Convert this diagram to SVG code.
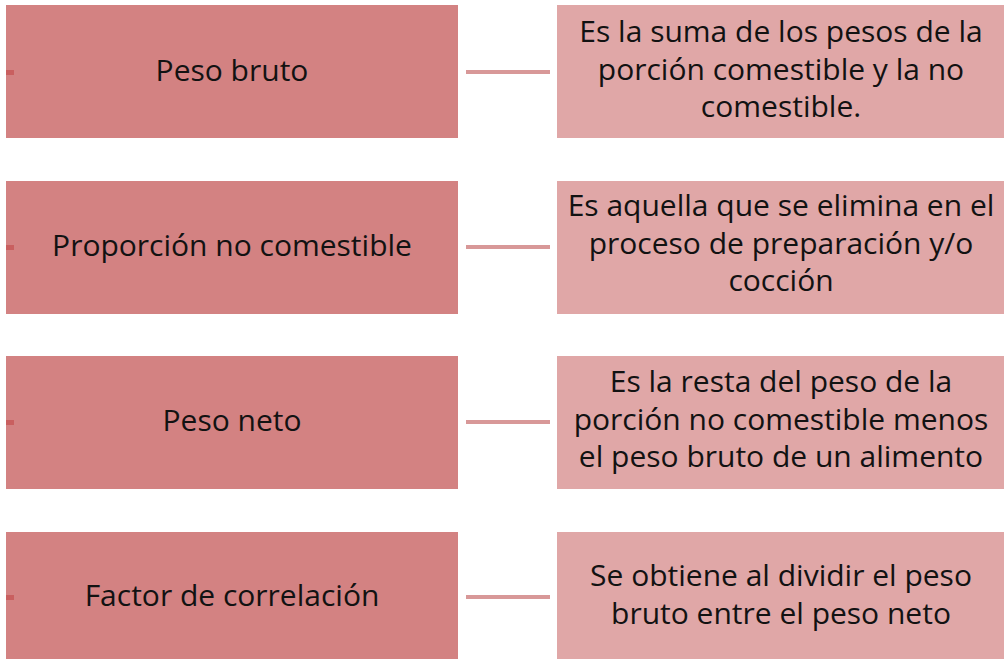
<svg xmlns="http://www.w3.org/2000/svg" width="1005" height="659" viewBox="0 0 1005 659">
<style>
.l{fill:#d38282;}
.r{fill:#e0a7a7;}
.m{fill:#c95f5f;}
.c{stroke:#d89898;stroke-width:4;fill:none;}
text{font-family:"Open Sans","Liberation Sans",sans-serif;font-size:30px;fill:#121212;text-anchor:middle;}
</style>
<rect width="1005" height="659" fill="#ffffff"/>
<g id="connectors">
<line class="c" x1="466" y1="72" x2="550" y2="72"/>
<line class="c" x1="466" y1="247" x2="550" y2="247"/>
<line class="c" x1="466" y1="422" x2="550" y2="422"/>
<line class="c" x1="466" y1="597" x2="550" y2="597"/>
</g>
<g id="n1"><rect class="l" x="6" y="5" width="452" height="133"/><rect class="m" x="6" y="70" width="8" height="5"/><text x="232" y="81">Peso bruto</text></g>
<g id="d1"><rect class="r" x="557" y="5" width="447" height="133"/><text x="781" y="42">Es la suma de los pesos de la</text><text x="781" y="80">porción comestible y la no</text><text x="781" y="117">comestible.</text></g>
<g id="n2"><rect class="l" x="6" y="181" width="452" height="133"/><rect class="m" x="6" y="245" width="8" height="5"/><text x="232" y="256">Proporción no comestible</text></g>
<g id="d2"><rect class="r" x="557" y="181" width="447" height="133"/><text x="781" y="216">Es aquella que se elimina en el</text><text x="781" y="254">proceso de preparación y/o</text><text x="781" y="291">cocción</text></g>
<g id="n3"><rect class="l" x="6" y="356" width="452" height="133"/><rect class="m" x="6" y="420" width="8" height="5"/><text x="232" y="431">Peso neto</text></g>
<g id="d3"><rect class="r" x="557" y="356" width="447" height="133"/><text x="781" y="392">Es la resta del peso de la</text><text x="781" y="430">porción no comestible menos</text><text x="781" y="467">el peso bruto de un alimento</text></g>
<g id="n4"><rect class="l" x="6" y="532" width="452" height="133"/><rect class="m" x="6" y="595" width="8" height="5"/><text x="232" y="606">Factor de correlación</text></g>
<g id="d4"><rect class="r" x="557" y="532" width="447" height="133"/><text x="781" y="586">Se obtiene al dividir el peso</text><text x="781" y="624">bruto entre el peso neto</text></g>
</svg>
